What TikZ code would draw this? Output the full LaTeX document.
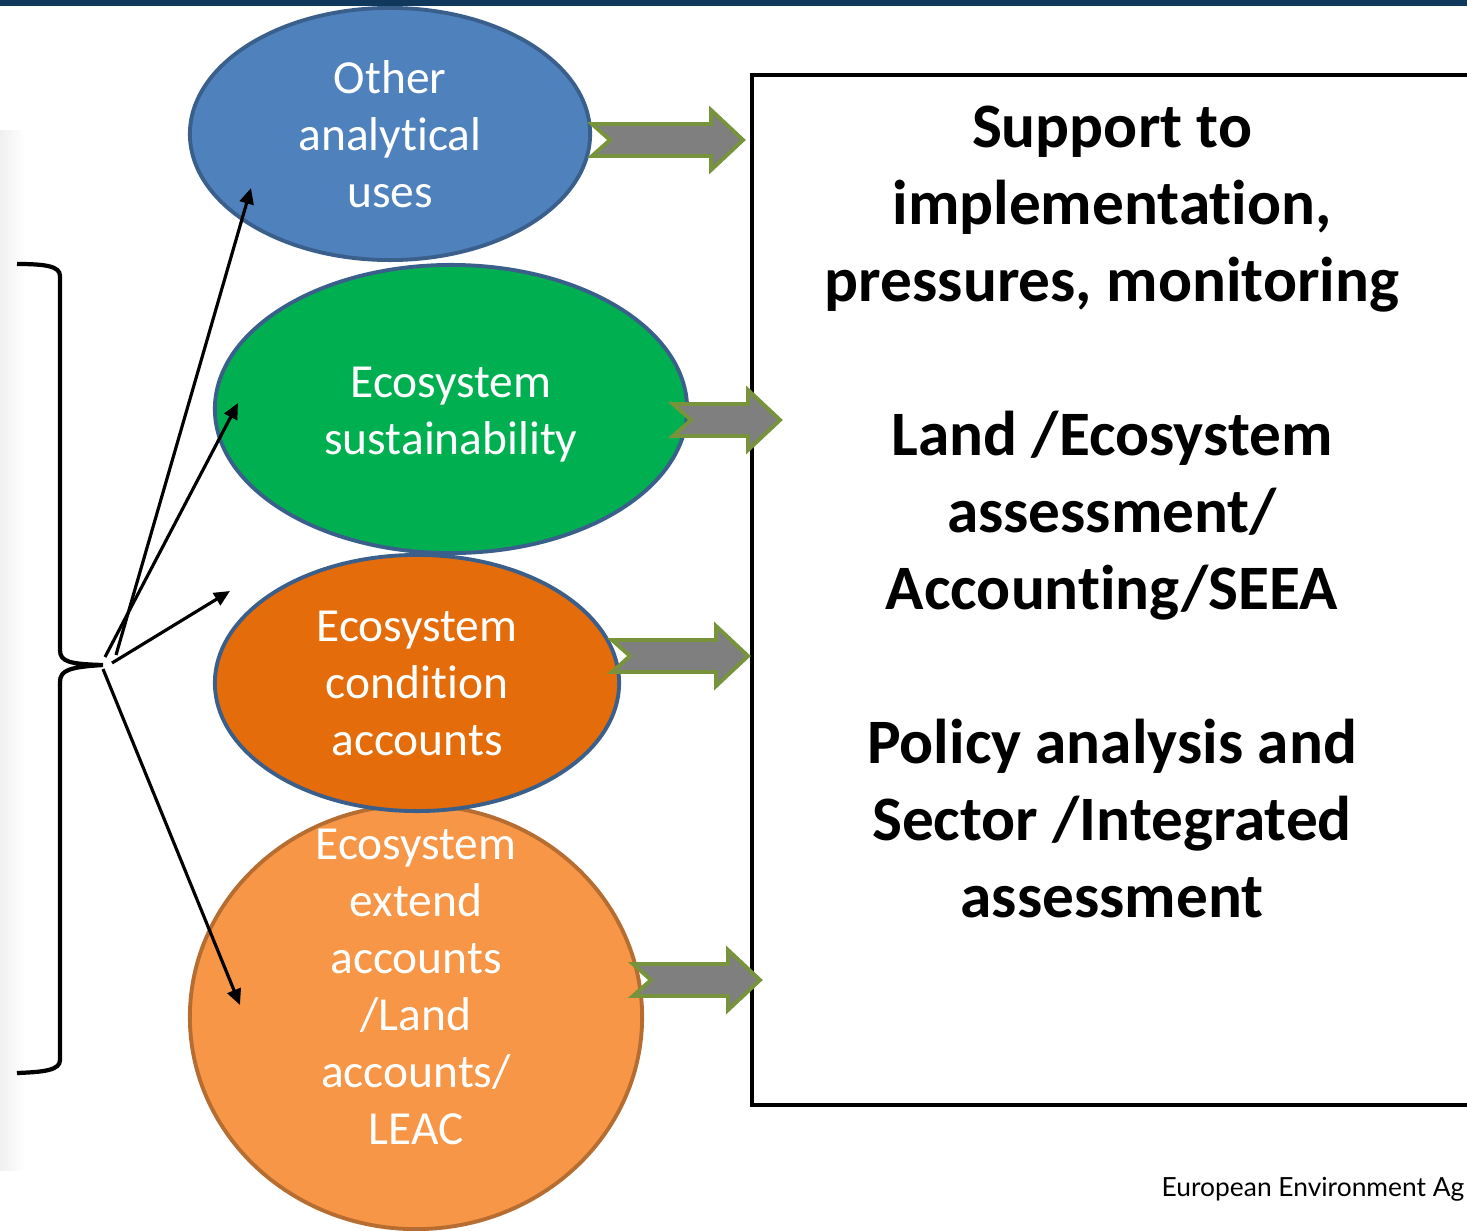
\documentclass[tikz,border=0pt]{standalone}
\usepackage{fontspec}
\setmainfont{Carlito}[Ligatures=NoCommon]
\newfontfamily\eeafont{Lato}
\usetikzlibrary{arrows.meta, shapes.geometric}

\definecolor{barblue}{HTML}{10375C}
\definecolor{ellblue}{HTML}{4F81BD}
\definecolor{ellline}{HTML}{3A5F8B}
\definecolor{ellgreen}{HTML}{00B050}
\definecolor{elldarkor}{HTML}{E46C0A}
\definecolor{elllightor}{HTML}{F79646}
\definecolor{orline}{HTML}{B66D31}
\definecolor{arrowline}{HTML}{77933C}
\definecolor{arrowfill}{HTML}{7F7F7F}

% fat grey arrow with notched tail: tail x, centre y, tip x
\newcommand{\fatarrow}[3]{%
  \draw[fatstyle] (#1,{#2-16}) -- ({#3-32},{#2-16}) -- ({#3-32},{#2-30}) -- (#3,#2)
    -- ({#3-32},{#2+30}) -- ({#3-32},{#2+16}) -- (#1,{#2+16}) -- ({#1+18},#2) -- cycle;}

\begin{document}
\begin{tikzpicture}[
    x=0.01cm, y=-0.01cm,
    ell/.style={ellipse, draw=ellline, line width=1.1pt, inner sep=0pt},
    etext/.style={text=white, align=center, font=\fontsize{13.5}{16.2}\selectfont},
    fatstyle/.style={draw=arrowline, fill=arrowfill, line width=1.1pt, line join=miter},
    thin/.style={line width=0.9pt, -{Triangle[length=4.5pt, width=4pt]}}
]
\useasboundingbox (0,0) rectangle (1467,1230);
\clip (0,0) rectangle (1467,1230);

% top bar and left shadow
\fill[barblue] (0,0) rectangle (1467,6);
\shade[left color=black!6, right color=white] (0,130) rectangle (25,1170);

% ellipses
\node[ell, draw=orline, fill=elllightor, minimum width=4.52cm, minimum height=4.24cm] (leac) at (416,1017) {};
\node[etext] (leactext) at (416,987) {Ecosystem\\extend\\accounts\\/Land\\accounts/\\LEAC};
\node[ell, fill=elldarkor, minimum width=4.04cm, minimum height=2.56cm, etext] (cond) at (417,683) {Ecosystem\\condition\\accounts};
\node[ell, fill=ellgreen, minimum width=4.72cm, minimum height=2.88cm] (sust) at (451,409) {};
\node[etext] (susttext) at (451,415) {Ecosystem\\sustainability};
\node[ell, fill=ellblue, minimum width=4cm, minimum height=2.52cm, etext] (other) at (390,134) {Other\\analytical\\uses};

% right box
\draw[line width=1pt] (1480,75) -- (752,75) -- (752,1105) -- (1480,1105);
\node[align=center, font=\bfseries\fontsize{18}{21.9}\selectfont] (box) at (1112,512)
  {Support to\\implementation,\\pressures, monitoring\\[21.9pt]Land /Ecosystem\\assessment/\\Accounting/SEEA\\[21.9pt]Policy analysis and\\Sector /Integrated\\assessment};

% fat arrows
\fatarrow{592}{140}{743}
\fatarrow{673}{420}{780}
\fatarrow{612}{656}{748}
\fatarrow{633}{980}{760}

% brace
\draw[line width=1.2pt] (17,264) .. controls (45,264) and (60,266) .. (60,276) -- (60,650)
  .. controls (60,662) and (70,664) .. (103,665)
  .. controls (70,667) and (60,670) .. (60,682) -- (60,1060)
  .. controls (60,1070) and (45,1072) .. (17,1073);

% thin arrows
\coordinate (fork) at (103,665);
\coordinate (eOther) at (251,188);
\coordinate (eSust) at (238,403);
\coordinate (eCond) at (230,591);
\coordinate (eLeac) at (240,1005);
\draw[thin] ([shift={(13,-10)}]fork) -- (eOther);
\draw[thin] ([shift={(2,-8)}]fork) -- (eSust);
\draw[thin] ([shift={(9,-2)}]fork) -- (eCond);
\draw[thin] ([shift={(0,4)}]fork) -- (eLeac);

% footer
\node[anchor=base east, inner sep=0pt, font=\eeafont\fontsize{7.5}{9}\selectfont] (eea) at (1465,1196) {European Environment Ag};
\end{tikzpicture}
\end{document}
